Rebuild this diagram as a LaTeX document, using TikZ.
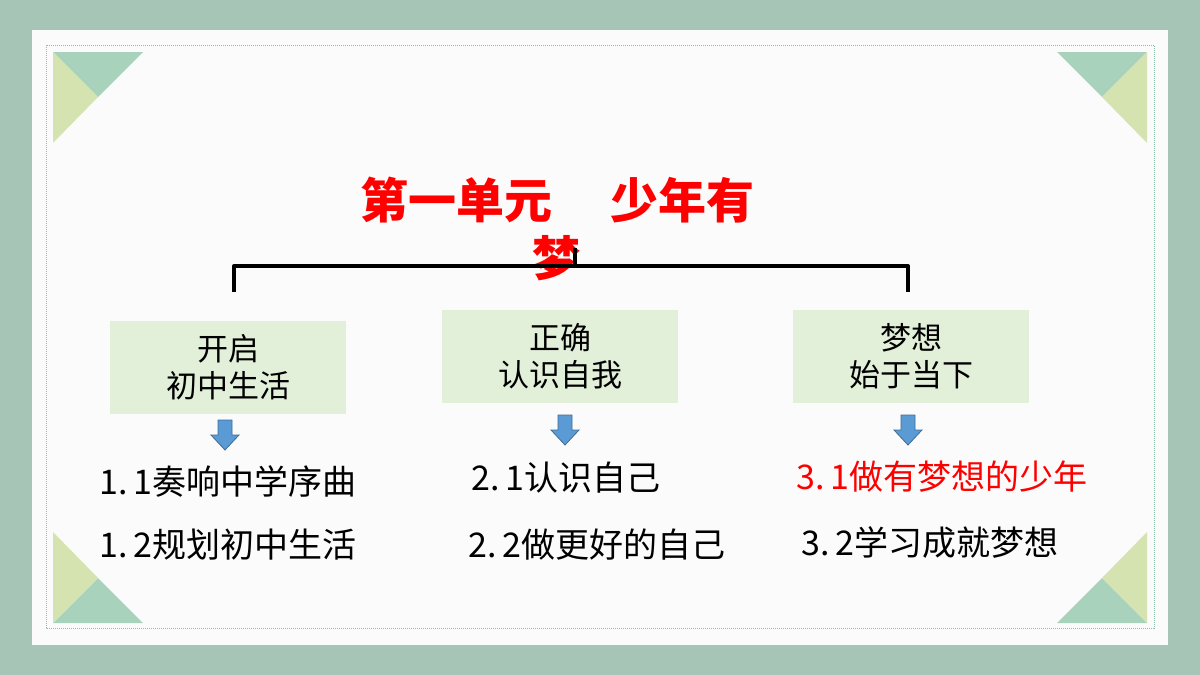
\documentclass[tikz,border=0pt]{standalone}
\usepackage{fontspec}
\newfontfamily\cjk{Noto Sans CJK SC}
\begin{document}
\begin{tikzpicture}[x=1pt,y=-1pt,
  box/.style={fill=boxgreen,minimum width=236pt,minimum height=93pt,align=center,font=\cjk\fontsize{31}{37}\selectfont},
  item/.style={anchor=west,font=\cjk\fontsize{34}{36}\selectfont},
  darr/.style={fill=arrblue,draw=arrblue!70!black,line width=0.8pt}]
\definecolor{bg}{HTML}{A7C5B6}
\definecolor{boxgreen}{HTML}{E2EFD9}
\definecolor{arrblue}{HTML}{5B9BD5}
\definecolor{trig}{HTML}{A9D2BC}
\definecolor{tric}{HTML}{D5E3B0}
\definecolor{dotc}{HTML}{8CC0A8}
\fill[bg] (0,0) rectangle (1200,675);
\useasboundingbox (0,0) rectangle (1200,675);
\fill[white!97!gray] (32,30) rectangle (1168,645);
\draw[dotc,densely dotted,line width=1pt] (46,45) rectangle (1154,628);
% corner triangles
\fill[trig] (53,52)--(143,52)--(98,97)--cycle;
\fill[tric] (53,52)--(98,97)--(53,143)--cycle;
\fill[trig] (1147,52)--(1057,52)--(1102,97)--cycle;
\fill[tric] (1147,52)--(1102,97)--(1147,143)--cycle;
\fill[trig] (53,623)--(143,623)--(98,578)--cycle;
\fill[tric] (53,623)--(98,578)--(53,532)--cycle;
\fill[trig] (1147,623)--(1057,623)--(1102,578)--cycle;
\fill[tric] (1147,623)--(1102,578)--(1147,532)--cycle;
% title
\node[anchor=west,text=red,font=\cjk\bfseries\fontsize{48}{52}\selectfont,inner sep=0pt] (t1) at (360,200) {第一单元\hspace{58pt}少年有};
\node[text=red,font=\cjk\bfseries\fontsize{48}{52}\selectfont] (t2) at (556,258) {梦};
% bracket
\coordinate (bl) at (234,292); \coordinate (br) at (908,292);
\coordinate (top) at (575,248);
\draw[line width=4pt,line join=round] (bl) |- (br |- 0,266) -- (br);
\draw[line width=4pt] (top) -- (top |- 0,266);
% boxes
\node[box] (b1) at (228,367) {开启\\初中生活};
\node[box] (b2) at (560,356) {正确\\认识自我};
\node[box] (b3) at (911,356) {梦想\\始于当下};
% arrows
\foreach \x/\y in {225/420,565/415,908/415}{
  \draw[darr] (\x-7,\y)--(\x+7,\y)--(\x+7,\y+15)--(\x+14,\y+15)--(\x,\y+30)--(\x-14,\y+15)--(\x-7,\y+15)--cycle;}
% items
\node[item] (i11) at (96,481) {1.\,1奏响中学序曲};
\node[item] (i12) at (96,545) {1.\,2规划初中生活};
\node[item] (i21) at (468,478) {2.\,1认识自己};
\node[item] (i22) at (465,545) {2.\,2做更好的自己};
\node[item,text=red] (i31) at (793,477) {3.\,1做有梦想的少年};
\node[item] (i32) at (798,543) {3.\,2学习成就梦想};
\end{tikzpicture}
\end{document}
